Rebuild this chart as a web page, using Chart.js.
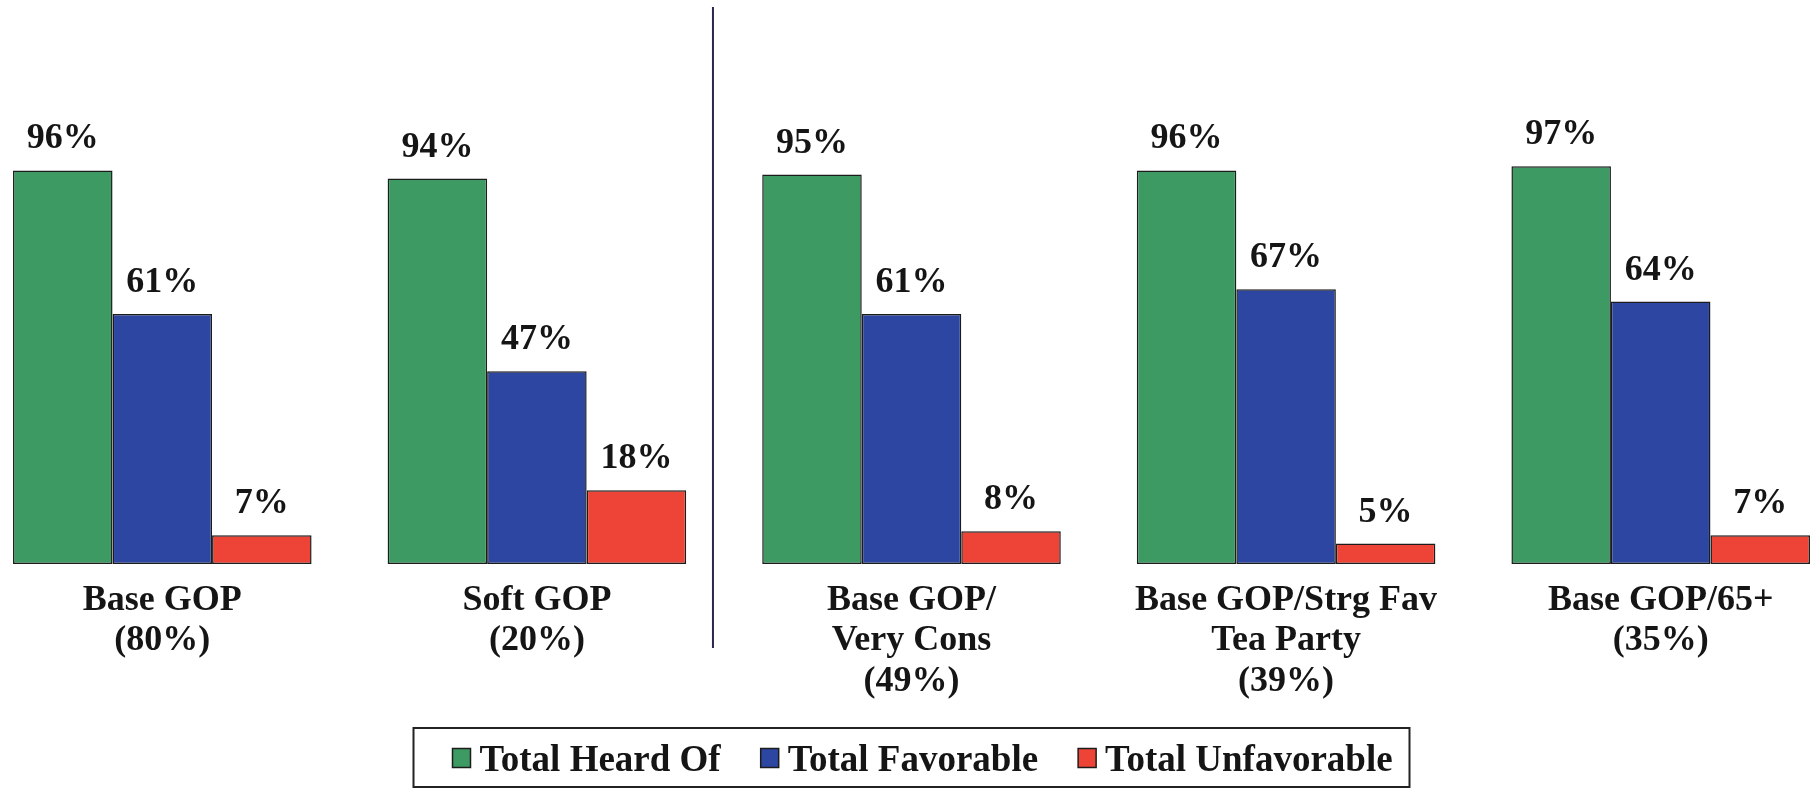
<!DOCTYPE html>
<html>
<head>
<meta charset="utf-8">
<script src="https://cdn.jsdelivr.net/npm/chart.js@4.4.1/dist/chart.umd.min.js"></script>
<style>
  html, body { margin: 0; padding: 0; background: #ffffff; overflow: hidden; width: 1812px; height: 789px; }
  #wrap { position: absolute; left: -25px; top: 0; width: 1873px; height: 789px; }
  #fontwarm { position: absolute; left: 0; top: 0; color: transparent; font-family: 'Liberation Serif'; font-weight: bold; font-size: 36px; pointer-events: none; }
</style>
</head>
<body>
<div id="fontwarm">Base GOP 96% Total Heard Of</div>
<div id="wrap"><canvas id="c"></canvas></div>
<script>
// ---- Data ----
const categories = [
  ['Base GOP', '(80%)'],
  ['Soft GOP', '(20%)'],
  ['Base GOP/', 'Very Cons', '(49%)'],
  ['Base GOP/Strg Fav', 'Tea Party', '(39%)'],
  ['Base GOP/65+', '(35%)']
];
const seriesNames = ['Total Heard Of', 'Total Favorable', 'Total Unfavorable'];
const heardOf     = [96, 94, 95, 96, 97];
const favorable   = [61, 47, 61, 67, 64];
const unfavorable = [7, 18, 8, 5, 7];

// ---- Styles ----
const FONT = "'Liberation Serif', 'Times New Roman', Times, serif";
const colors = ['#3c9a62', '#2c46a2', '#ee4437'];
const TEXT = '#151515';
const BORDER = '#1c1c1c';

const valueLabels = {
  id: 'valueLabels',
  afterDatasetsDraw(chart) {
    const ctx = chart.ctx;
    ctx.save();
    ctx.font = 'bold 36px ' + FONT;
    ctx.fillStyle = TEXT;
    ctx.textAlign = 'center';
    ctx.textBaseline = 'alphabetic';
    chart.data.datasets.forEach((ds, i) => {
      const meta = chart.getDatasetMeta(i);
      meta.data.forEach((bar, j) => {
        ctx.fillText(ds.data[j] + '%', bar.x, bar.y - 22);
      });
    });
    ctx.restore();
  }
};

const divider = {
  id: 'divider',
  afterDraw(chart) {
    const x = chart.scales.x;
    const p1 = x.getPixelForValue(1), p2 = x.getPixelForValue(2);
    const px = p1 + 0.47 * (p2 - p1);
    const ctx = chart.ctx;
    ctx.save();
    ctx.strokeStyle = '#2a2848';
    ctx.lineWidth = 2;
    ctx.beginPath();
    ctx.moveTo(px, 7);
    ctx.lineTo(px, chart.chartArea.bottom + 84);
    ctx.stroke();
    ctx.restore();
  }
};

const boxLegend = {
  id: 'boxLegend',
  afterDraw(chart) {
    const ctx = chart.ctx;
    const cx = chart.scales.x.getPixelForValue(2);
    const boxW = 996, boxH = 59;
    const left = cx - boxW / 2;
    const top = chart.chartArea.bottom + 164;
    ctx.save();
    ctx.strokeStyle = '#222';
    ctx.lineWidth = 2;
    ctx.strokeRect(left, top, boxW, boxH);
    ctx.font = 'bold 37px ' + FONT;
    ctx.textBaseline = 'alphabetic';
    ctx.textAlign = 'left';
    let x = left + 39;
    const midY = top + boxH / 2;
    chart.data.datasets.forEach((ds, i) => {
      ctx.fillStyle = ds.backgroundColor;
      ctx.fillRect(x, midY - 9, 18, 19);
      ctx.strokeStyle = BORDER;
      ctx.lineWidth = 1.5;
      ctx.strokeRect(x, midY - 9, 18, 19);
      ctx.fillStyle = TEXT;
      const tx = x + 27;
      ctx.fillText(ds.label, tx, midY + 13);
      x = tx + ctx.measureText(ds.label).width + 40;
    });
    ctx.restore();
  }
};

const series = [heardOf, favorable, unfavorable];

function build() {
  new Chart(document.getElementById('c'), {
    type: 'bar',
    data: {
      labels: categories,
      datasets: series.map((d, i) => ({
        label: seriesNames[i],
        data: d,
        backgroundColor: colors[i],
        borderColor: BORDER,
        borderWidth: 1.5,
        borderSkipped: false,
        categoryPercentage: 0.797,
        barPercentage: 1.0
      }))
    },
    options: {
      responsive: true,
      maintainAspectRatio: false,
      animation: false,
      layout: { padding: { top: 154, left: 0, right: 0, bottom: 0 } },
      plugins: {
        legend: { display: false },
        tooltip: { enabled: false }
      },
      scales: {
        x: {
          grid: { display: false, drawTicks: false },
          border: { display: false },
          ticks: {
            color: TEXT,
            font: { family: FONT, size: 36, weight: 'bold', lineHeight: 1.125 },
            padding: 16,
            maxRotation: 0,
            autoSkip: false
          },
          afterFit(scale) { scale.height = 225; }
        },
        y: {
          display: false,
          min: 0,
          max: 100
        }
      }
    },
    plugins: [valueLabels, divider, boxLegend]
  });
}
if (document.fonts && document.fonts.load) {
  Promise.all([
    document.fonts.load("bold 36px 'Liberation Serif'"),
    document.fonts.load("bold 37px 'Liberation Serif'")
  ]).then(() => document.fonts.ready).then(build, build);
} else {
  build();
}
</script>
</body>
</html>
